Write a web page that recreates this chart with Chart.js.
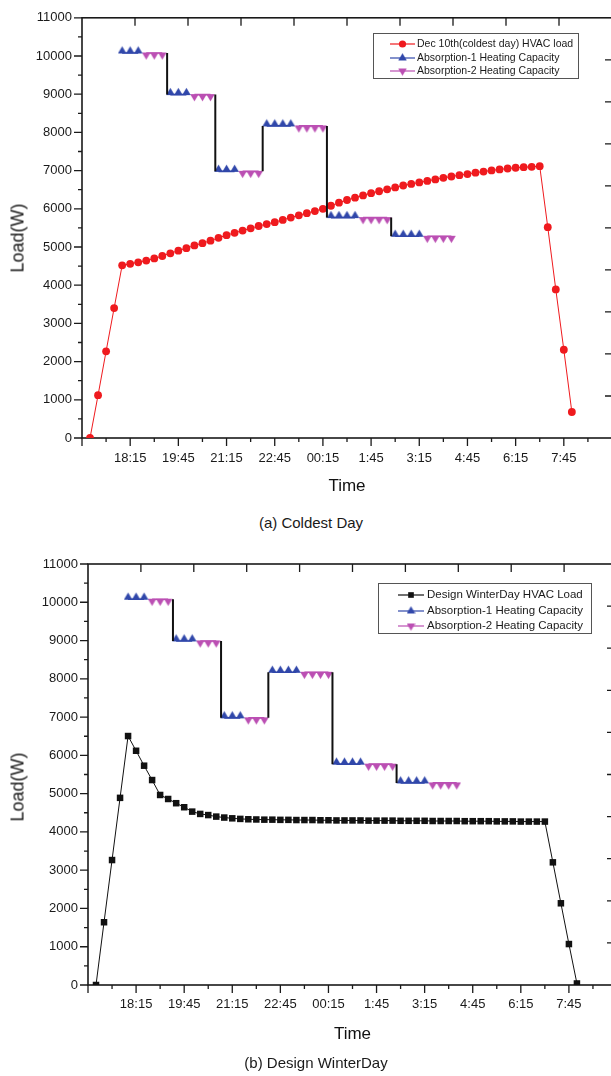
<!DOCTYPE html>
<html lang="en">
<head>
  <meta charset="UTF-8" />
  <title>HVAC load vs absorption heating capacity</title>
  <script src="https://cdn.jsdelivr.net/npm/chart.js"></script>
  <style>
    body {
      margin: 0;
      width: 611px;
      height: 1076px;
      overflow: hidden;
      background: #fff;
      font-family: 'Liberation Sans', Arial, sans-serif;
      color: #1a1a1a;
      position: relative;
    }
    canvas { position: absolute; left: 0; }
    .ytitle {
      position: absolute;
      font-size: 18px;
      white-space: nowrap;
      transform: translate(-50%, -50%) rotate(-90deg);
    }
    .caption {
      position: absolute;
      font-size: 15px;
      white-space: nowrap;
      transform: translate(-50%, -50%);
    }
  </style>
</head>
<body>
  <canvas id="coldChart" width="640" height="505" style="top:0"></canvas>
  <canvas id="designChart" width="640" height="520" style="top:540px"></canvas>
  <div class="ytitle" style="left:18px;top:238px">Load(W)</div>
  <div class="ytitle" style="left:18px;top:787px">Load(W)</div>
  <div class="caption" style="left:311px;top:522px">(a) Coldest Day</div>
  <div class="caption" style="left:316px;top:1062px">(b) Design WinterDay</div>
  <script>
    // x axis is counted in 15 minute slots, slot 0 = 16:45
    const tickLabels = ['18:15', '19:45', '21:15', '22:45', '00:15', '1:45', '3:15', '4:45', '6:15', '7:45'];
    const loadFirstSlot = 1; // 17:00

    // (a) Dec 10th, coldest day, 17:00 .. 8:00
    const coldLoad = [0, 1120, 2270, 3400, 4520, 4560, 4600, 4645, 4700, 4765,
      4835, 4905, 4970, 5040, 5100, 5165, 5240, 5310, 5370, 5430,
      5490, 5550, 5600, 5650, 5710, 5770, 5830, 5885, 5940, 6000,
      6080, 6160, 6230, 6290, 6350, 6410, 6460, 6510, 6560, 6610,
      6650, 6690, 6730, 6770, 6810, 6845, 6880, 6910, 6945, 6975,
      7005, 7030, 7055, 7075, 7090, 7100, 7115, 5520, 3890, 2310, 680];

    // (b) design winter day, 17:00 .. 8:00
    const designLoad = [0, 1640, 3265, 4890, 6505, 6120, 5730, 5355, 4965, 4860,
      4750, 4645, 4530, 4470, 4440, 4400, 4375, 4355, 4340, 4330,
      4325, 4320, 4320, 4315, 4315, 4310, 4310, 4310, 4305, 4305,
      4300, 4300, 4300, 4300, 4295, 4295, 4295, 4295, 4290, 4290,
      4290, 4290, 4285, 4285, 4285, 4285, 4280, 4280, 4280, 4280,
      4275, 4275, 4275, 4270, 4270, 4270, 4270, 3205, 2135, 1070, 40];

    // heating capacity steps (same in both panels)
    const capLevels = [10080, 8990, 6980, 8170, 5770, 5280];
    const abs1Slots = [[5, 6, 7], [11, 12, 13], [17, 18, 19], [23, 24, 25, 26], [31, 32, 33, 34], [39, 40, 41, 42]];
    const abs2Slots = [[8, 9, 10], [14, 15, 16], [20, 21, 22], [27, 28, 29, 30], [35, 36, 37, 38], [43, 44, 45, 46]];
    const switchSlots = [10.6, 16.6, 22.5, 30.5, 38.5];

    const RED = '#ef1a1e', BLUE = '#3047aa', MAGENTA = '#bb4fb3';

    // triangle markers whose base sits on the data line (up) or hangs from it (down)
    function triangleMarker(color, down) {
      const c = document.createElement('canvas');
      c.width = 9; c.height = 15;
      const g = c.getContext('2d');
      g.fillStyle = color;
      g.beginPath();
      if (down) {
        g.moveTo(0.2, 7); g.lineTo(8.8, 7); g.lineTo(4.5, 14.2);
      } else {
        g.moveTo(4.5, 0.8); g.lineTo(8.8, 8); g.lineTo(0.2, 8);
      }
      g.closePath();
      g.fill();
      return c;
    }
    const upTri = triangleMarker(BLUE, false);
    const downTri = triangleMarker(MAGENTA, true);

    function seriesPoints(values) {
      return values.map((v, i) => ({ x: loadFirstSlot + i, y: v }));
    }
    function stepPoints(groups) {
      const pts = [];
      groups.forEach((g, k) => {
        g.forEach(s => pts.push({ x: s, y: capLevels[k] }));
        pts.push({ x: g[g.length - 1] + 0.5, y: null });
      });
      return pts;
    }
    function switchPoints() {
      const pts = [];
      switchSlots.forEach((s, k) => {
        pts.push({ x: s, y: capLevels[k] }, { x: s, y: capLevels[k + 1] }, { x: s, y: null });
      });
      return pts;
    }

    // frame with outward ticks on bottom/left, inward ticks on top/right
    const frame = {
      id: 'frame',
      beforeDatasetsDraw(chart, args, opts) {
        const { ctx, chartArea: a, scales: { x, y } } = chart;
        ctx.save();
        ctx.strokeStyle = '#1a1a1a';
        ctx.lineWidth = 1.6;
        ctx.strokeRect(a.left, a.top, a.right - a.left, a.bottom - a.top);
        ctx.lineWidth = 1.3;
        ctx.beginPath();
        x.ticks.forEach(t => {
          const px = x.getPixelForValue(t.value);
          const len = t.value % 6 === 0 ? 8 : 4;
          ctx.moveTo(px, a.bottom); ctx.lineTo(px, a.bottom + len);
        });
        y.ticks.forEach(t => {
          const py = y.getPixelForValue(t.value);
          const len = t.value % 1000 === 0 ? 8 : 4;
          ctx.moveTo(a.left - len, py); ctx.lineTo(a.left, py);
        });
        for (let i = 1; i < 10; i++) {
          const px = a.left + (a.right - a.left) * i / 10;
          ctx.moveTo(px, a.top); ctx.lineTo(px, a.top + 8);
          const py = a.bottom - (a.bottom - a.top) * i / 10;
          ctx.moveTo(a.right - opts.rightTick, py); ctx.lineTo(a.right, py);
        }
        ctx.stroke();
        ctx.restore();
      }
    };

    // boxed legend inside the plot
    const boxLegend = {
      id: 'boxLegend',
      afterDatasetsDraw(chart, args, o) {
        const ctx = chart.ctx;
        ctx.save();
        ctx.fillStyle = '#fff';
        ctx.fillRect(o.x, o.y, o.w, o.h);
        ctx.strokeStyle = '#555';
        ctx.lineWidth = 1;
        ctx.strokeRect(o.x + 0.5, o.y + 0.5, o.w, o.h);
        ctx.font = o.font;
        ctx.textBaseline = 'middle';
        chart.data.datasets.filter(d => d.label).forEach((d, i) => {
          const yy = o.y + o.rows[i];
          const mx = o.x + (o.line[0] + o.line[1]) / 2;
          ctx.strokeStyle = d.borderColor;
          ctx.lineWidth = 1.2;
          ctx.beginPath();
          ctx.moveTo(o.x + o.line[0], yy);
          ctx.lineTo(o.x + o.line[1], yy);
          ctx.stroke();
          ctx.fillStyle = d.pointBackgroundColor;
          if (d.pointStyle instanceof HTMLCanvasElement) {
            const s = d.pointStyle;
            ctx.drawImage(s, mx - s.width / 2, yy - s.height / 2 + (s === upTri ? 2 : -2));
          } else {
            Chart.helpers.drawPoint(ctx, {
              pointStyle: d.pointStyle, radius: o.marker, rotation: 0, borderWidth: 0
            }, mx, yy);
          }
          ctx.fillStyle = '#1a1a1a';
          ctx.fillText(d.label, o.x + o.text, yy);
        });
        ctx.restore();
      }
    };

    function makeChart(id, load, cfg) {
      return new Chart(document.getElementById(id), {
        type: 'line',
        data: {
          datasets: [
            {
              data: switchPoints(),
              borderColor: '#111', borderWidth: 2, pointRadius: 0, spanGaps: false
            },
            {
              label: cfg.loadLabel,
              data: seriesPoints(load),
              borderColor: cfg.loadColor, borderWidth: 1,
              pointStyle: cfg.loadStyle, pointRadius: cfg.loadRadius,
              pointBackgroundColor: cfg.loadColor, pointBorderWidth: 0
            },
            {
              label: 'Absorption-1 Heating Capacity',
              data: stepPoints(abs1Slots),
              borderColor: BLUE, borderWidth: 1.6, spanGaps: false,
              pointStyle: upTri, pointRadius: 5,
              pointBackgroundColor: BLUE, pointBorderWidth: 0
            },
            {
              label: 'Absorption-2 Heating Capacity',
              data: stepPoints(abs2Slots),
              borderColor: MAGENTA, borderWidth: 1.6, spanGaps: false,
              pointStyle: downTri, pointRadius: 5,
              pointBackgroundColor: MAGENTA, pointBorderWidth: 0
            }
          ]
        },
        options: {
          responsive: false,
          animation: false,
          layout: { padding: { top: cfg.top, right: cfg.right, left: 0, bottom: 0 } },
          plugins: {
            legend: { display: false },
            tooltip: { enabled: false },
            frame: { rightTick: cfg.rightTick },
            boxLegend: cfg.legend
          },
          scales: {
            x: {
              type: 'linear', min: 0, max: 66,
              grid: { display: false, drawTicks: false }, border: { display: false },
              afterFit: s => { s.height = cfg.xHeight; },
              ticks: {
                stepSize: 3, autoSkip: false, maxRotation: 0,
                padding: cfg.xPad, color: '#1a1a1a',
                font: { family: "'Liberation Sans', Arial", size: 13 },
                callback: v => (v % 6 === 0 && v > 0 && v < 66) ? tickLabels[v / 6 - 1] : ''
              },
              title: {
                display: true, text: 'Time', color: '#111',
                font: { family: "'Liberation Sans', Arial", size: 17 },
                padding: { top: 0, bottom: cfg.titlePad }
              }
            },
            y: {
              min: 0, max: 11000,
              grid: { display: false, drawTicks: false }, border: { display: false },
              afterFit: s => { s.width = cfg.yWidth; },
              ticks: {
                stepSize: 500, padding: 10, color: '#1a1a1a',
                font: { family: "'Liberation Sans', Arial", size: 13 },
                callback: v => v % 1000 === 0 ? v : ''
              }
            }
          }
        },
        plugins: [frame, boxLegend]
      });
    }

    makeChart('coldChart', coldLoad, {
      loadLabel: 'Dec 10th(coldest day) HVAC load',
      loadColor: RED, loadStyle: 'circle', loadRadius: 3.9,
      top: 14, right: 28, xHeight: 67, yWidth: 82, xPad: 13, titlePad: 8, rightTick: 7,
      legend: { x: 373, y: 33, w: 205, h: 45, rows: [11, 25, 38], line: [17, 42], text: 44,
        marker: 3.6, font: "10.5px 'Liberation Sans', Arial" }
    });

    makeChart('designChart', designLoad, {
      loadLabel: 'Design WinterDay HVAC Load',
      loadColor: '#111', loadStyle: 'rect', loadRadius: 4.6,
      top: 24, right: 23, xHeight: 75, yWidth: 88, xPad: 12, titlePad: 15, rightTick: 10,
      legend: { x: 378, y: 43, w: 213, h: 50, rows: [12, 28, 43], line: [20, 46], text: 49,
        marker: 4, font: "11.5px 'Liberation Sans', Arial" }
    });
  </script>
</body>
</html>
